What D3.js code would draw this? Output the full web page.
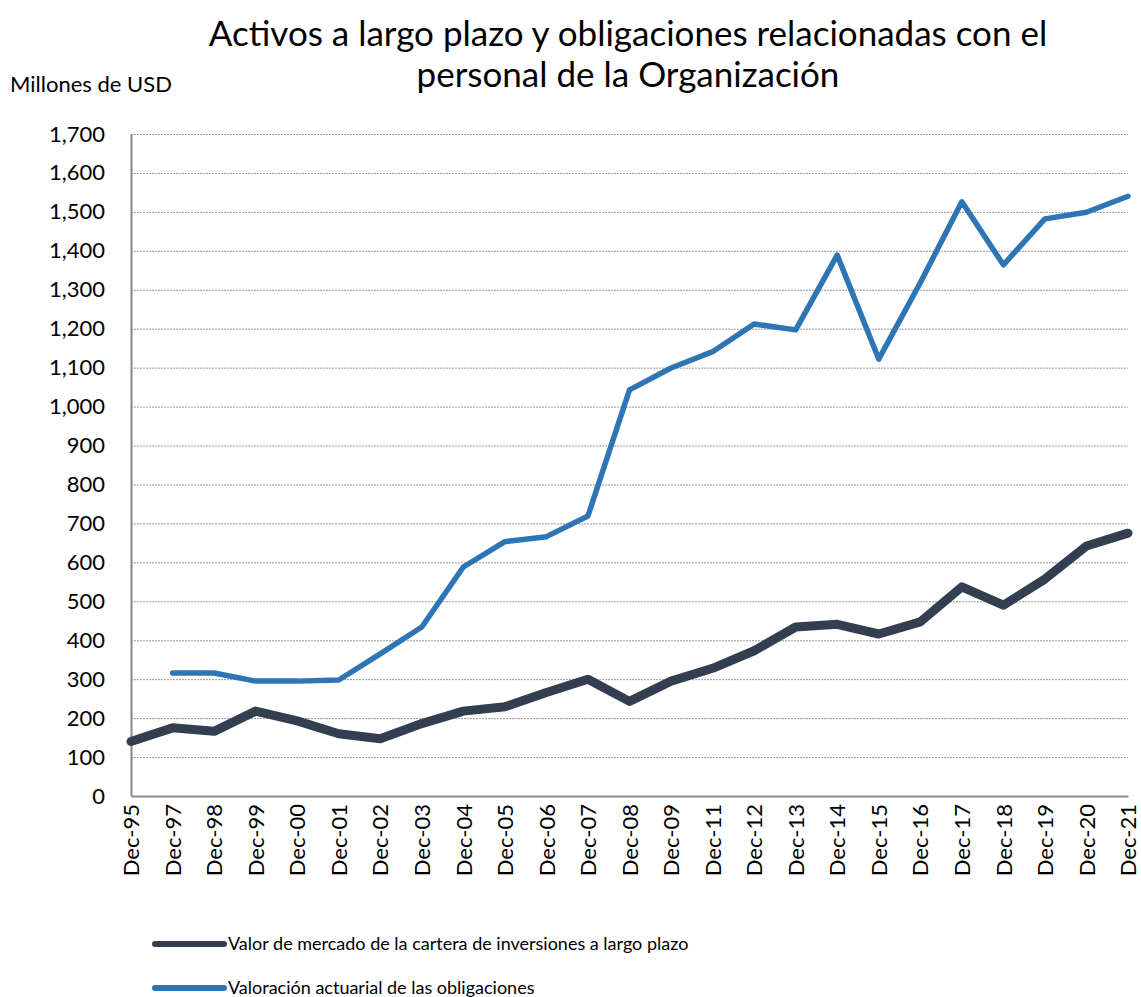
<!DOCTYPE html>
<html>
<head>
<meta charset="utf-8">
<script src="https://cdn.jsdelivr.net/npm/d3@7"></script>
<style>
  body { margin: 0; background: #fff; }
  svg { font-family: Lato, 'Open Sans', sans-serif; }
  .grid line { stroke: #999; stroke-dasharray: 2 1; }
  .grid .domain { display: none; }
</style>
</head>
<body>
<div id="chart"></div>
<script>
// categories (note: Dec-96 and Dec-10 are absent in the source)
const periods = ['Dec-95', 'Dec-97', 'Dec-98', 'Dec-99', 'Dec-00', 'Dec-01', 'Dec-02', 'Dec-03',
  'Dec-04', 'Dec-05', 'Dec-06', 'Dec-07', 'Dec-08', 'Dec-09', 'Dec-11', 'Dec-12', 'Dec-13',
  'Dec-14', 'Dec-15', 'Dec-16', 'Dec-17', 'Dec-18', 'Dec-19', 'Dec-20', 'Dec-21']

const marketValue = [140, 175, 166, 218, 193, 160, 147, 186, 218, 229, 266, 300, 243, 295,
  328, 373, 434, 441, 416, 447, 537, 490, 557, 642, 675]

const obligations = [null, 316, 316, 295, 295, 298, 365, 434, 588, 653, 666, 719, 1043, 1099,
  1141, 1212, 1197, 1389, 1122, 1318, 1526, 1364, 1482, 1499, 1540]

const yTicks = d3.range(0, 1701, 100)

const seriesNames = ['Valor de mercado de la cartera de inversiones a largo plazo',
  'Valoración actuarial de las obligaciones']

drawChart()

function drawChart () {
  const width = 1141
  const height = 997
  const margin = { top: 134, right: 13, bottom: 201, left: 131 }

  const svg = d3.select('#chart')
    .append('svg')
    .attr('width', width)
    .attr('height', height)

  const x = d3.scalePoint()
    .domain(periods)
    .range([margin.left, width - margin.right])

  const y = d3.scaleLinear()
    .domain([0, 1700])
    .range([height - margin.bottom, margin.top])

  // title
  const titleLines = ['Activos a largo plazo y obligaciones relacionadas con el', 'personal de la Organización']
  svg.selectAll('.title')
    .data(titleLines)
    .join('text')
    .attr('class', 'title')
    .attr('x', 628)
    .attr('y', (d, i) => 46 + i * 41)
    .attr('text-anchor', 'middle')
    .attr('font-size', 35)
    .attr('fill', '#000')
    .text(d => d)

  svg.append('text')
    .attr('x', 10)
    .attr('y', 92)
    .attr('font-size', 22)
    .attr('fill', '#000')
    .text('Millones de USD')

  // gridlines
  svg.append('g')
    .attr('class', 'grid')
    .attr('transform', `translate(${margin.left},0)`)
    .call(d3.axisLeft(y).tickValues(yTicks.slice(1)).tickSize(-(width - margin.right - margin.left)).tickFormat(''))

  // y axis
  const yAxis = svg.append('g')
    .attr('transform', `translate(${margin.left},0)`)
    .call(d3.axisLeft(y).tickValues(yTicks).tickSize(0).tickPadding(26).tickFormat(d3.format(',')))
  yAxis.select('.domain').attr('stroke', '#888').attr('stroke-width', 2)
  yAxis.selectAll('text').attr('font-size', 22).attr('fill', '#000').attr('font-family', 'Lato')

  // x axis
  const xAxis = svg.append('g')
    .attr('transform', `translate(0,${height - margin.bottom})`)
    .call(d3.axisBottom(x).tickSize(0).tickSizeOuter(0))
  xAxis.select('.domain').attr('stroke', '#888').attr('stroke-width', 2)
  xAxis.selectAll('text')
    .attr('font-size', 22)
    .attr('fill', '#000')
    .attr('font-family', 'Lato')
    .attr('text-anchor', 'end')
    .attr('dy', '0.35em')
    .attr('transform', 'translate(0,8) rotate(-90)')
    .attr('x', 0)
    .attr('y', 0)

  const line = d3.line()
    .defined(d => d[1] != null)
    .x(d => x(d[0]))
    .y(d => y(d[1]))

  svg.append('path')
    .datum(periods.map((p, i) => [p, marketValue[i]]))
    .attr('fill', 'none')
    .attr('stroke', '#333f50')
    .attr('stroke-width', 9)
    .attr('stroke-linejoin', 'round')
    .attr('stroke-linecap', 'round')
    .attr('d', line)

  svg.append('path')
    .datum(periods.map((p, i) => [p, obligations[i]]))
    .attr('fill', 'none')
    .attr('stroke', '#2e75b6')
    .attr('stroke-width', 5.5)
    .attr('stroke-linejoin', 'round')
    .attr('stroke-linecap', 'round')
    .attr('d', line)

  // legend
  const legend = svg.append('g')
  const colors = ['#333f50', '#2e75b6']
  const legendY = [944, 988]
  seriesNames.forEach((name, i) => {
    legend.append('line')
      .attr('x1', 155).attr('x2', 224)
      .attr('y1', legendY[i]).attr('y2', legendY[i])
      .attr('stroke', colors[i])
      .attr('stroke-width', 6)
      .attr('stroke-linecap', 'round')
    legend.append('text')
      .attr('x', 228)
      .attr('y', legendY[i] + 6)
      .attr('font-size', 18)
      .attr('fill', '#000')
      .text(name)
  })
}
</script>
</body>
</html>
